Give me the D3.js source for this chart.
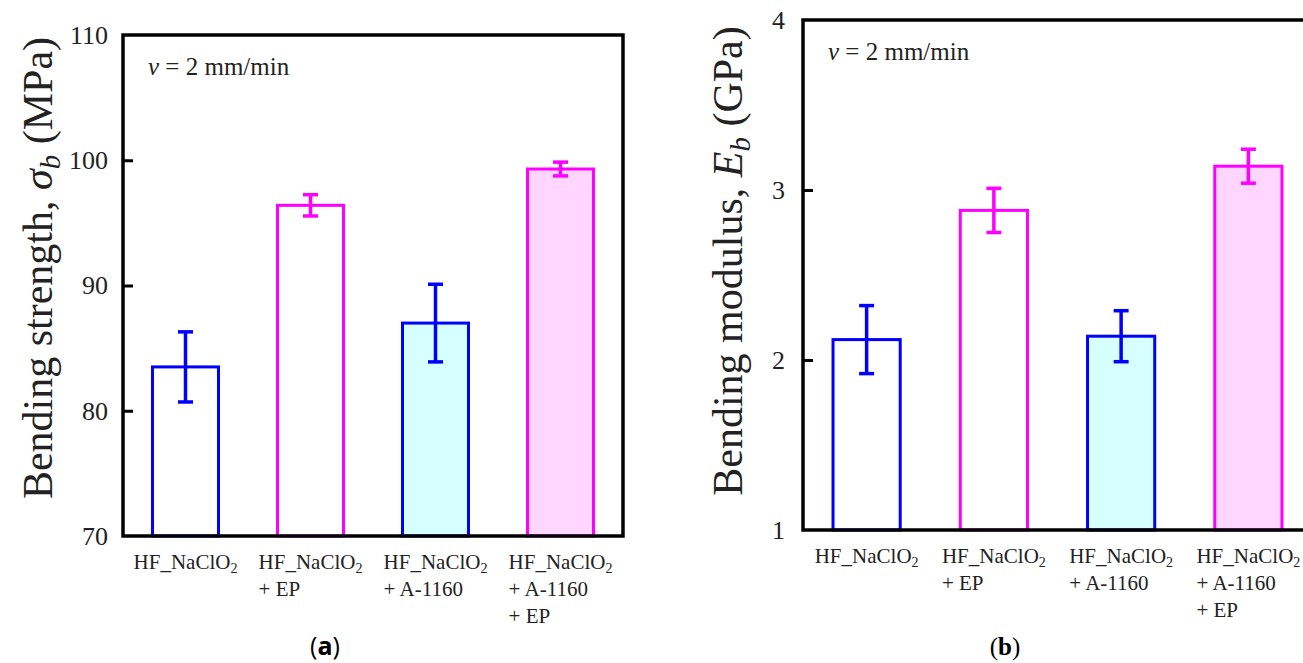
<!DOCTYPE html>
<html>
<head>
<meta charset="utf-8">
<script src="https://cdn.jsdelivr.net/npm/d3@7"></script>
<style>
  body { margin: 0; background: #fff; }
  text { font-family: "Liberation Serif", "Times New Roman", serif; fill: #222; }
</style>
</head>
<body>
<script>
// categories (each entry = lines of the x label; "NaClO2" gets a subscript 2)
const categories = [
    ["HF_NaClO2"],
    ["HF_NaClO2", "+ EP"],
    ["HF_NaClO2", "+ A-1160"],
    ["HF_NaClO2", "+ A-1160", "+ EP"]
];
const strokeColors = ["#0000ff", "#ff00ff", "#0000ff", "#ff00ff"];
const fillColors = ["#ffffff", "#ffffff", "#d6ffff", "#ffd6ff"];

// (a) bending strength, MPa
const strength = [83.5, 96.4, 87.0, 99.3];
const strengthErr = [2.8, 0.85, 3.1, 0.55];
const strengthTicks = [70, 80, 90, 100, 110];

// (b) bending modulus, GPa
const modulus = [2.12, 2.88, 2.14, 3.14];
const modulusErr = [0.20, 0.13, 0.15, 0.10];
const modulusTicks = [1, 2, 3, 4];

const svg = d3.select("body")
    .append("svg")
    .attr("width", 1303)
    .attr("height", 663);

function drawPanel(p) {
    const g = svg.append("g");

    const x = d3.scaleBand()
        .domain(d3.range(categories.length))
        .range([p.left, p.right])
        .paddingInner(0.472)
        .paddingOuter(0.236);

    const y = d3.scaleLinear()
        .domain(d3.extent(p.ticks))
        .range([p.bottom, p.top]);

    // bars
    g.selectAll(".bar")
        .data(p.values)
        .enter()
        .append("rect")
        .attr("x", (d, i) => x(i))
        .attr("y", d => y(d))
        .attr("width", x.bandwidth())
        .attr("height", d => y.range()[0] - y(d))
        .attr("fill", (d, i) => fillColors[i])
        .attr("stroke", (d, i) => strokeColors[i])
        .attr("stroke-width", 3);

    // error bars
    const err = g.selectAll(".err")
        .data(p.values)
        .enter()
        .append("g")
        .attr("stroke", (d, i) => strokeColors[i])
        .attr("stroke-width", 3.5);
    err.append("line")
        .attr("x1", (d, i) => x(i) + x.bandwidth() / 2)
        .attr("x2", (d, i) => x(i) + x.bandwidth() / 2)
        .attr("y1", (d, i) => y(d - p.errors[i]))
        .attr("y2", (d, i) => y(d + p.errors[i]));
    [-1, 1].forEach(s => {
        err.append("line")
            .attr("x1", (d, i) => x(i) + x.bandwidth() / 2 - 7.5)
            .attr("x2", (d, i) => x(i) + x.bandwidth() / 2 + 7.5)
            .attr("y1", (d, i) => y(d + s * p.errors[i]))
            .attr("y2", (d, i) => y(d + s * p.errors[i]));
    });

    // left axis, ticks pointing inside
    const axis = g.append("g")
        .attr("transform", `translate(${p.left},0)`)
        .call(d3.axisLeft(y).tickValues(p.ticks).tickFormat(d3.format("d"))
            .tickSize(-10).tickPadding(p.tickPad));
    axis.select(".domain").remove();
    axis.selectAll(".tick line")
        .attr("stroke", "#000")
        .attr("stroke-width", 3)
        .attr("opacity", d => (d === y.domain()[0] || d === y.domain()[1]) ? 0 : 1);
    axis.selectAll(".tick text")
        .attr("font-size", 26)
        .attr("fill", "#222");

    // frame
    g.append("rect")
        .attr("x", p.left)
        .attr("y", p.top)
        .attr("width", p.right - p.left)
        .attr("height", p.bottom - p.top)
        .attr("fill", "none")
        .attr("stroke", "#000")
        .attr("stroke-width", 3.5);

    // x labels, left aligned block centred under each bar
    categories.forEach((lines, i) => {
        const lg = g.append("g");
        lines.forEach((l, j) => {
            const t = lg.append("text")
                .attr("y", j * 27)
                .attr("font-size", 21);
            if (l.endsWith("2")) {
                t.append("tspan").text(l.slice(0, -1));
                t.append("tspan").attr("font-size", 14).attr("dy", 4).text("2");
            } else {
                t.text(l);
            }
        });
        const w = lg.select("text").node().getBBox().width;
        lg.attr("transform", `translate(${x(i) + x.bandwidth() / 2 - w / 2},${p.bottom + 33})`);
    });

    // speed note
    const note = g.append("text")
        .attr("x", p.left + 25)
        .attr("y", p.top + 40)
        .attr("font-size", 25);
    note.append("tspan").attr("font-style", "italic").text("v");
    note.append("tspan").text(" = 2 mm/min");

    // y title
    const yt = g.append("text")
        .attr("transform", `translate(${p.titleX},${p.titleY}) rotate(-90)`)
        .attr("text-anchor", "middle")
        .attr("font-size", 42);
    yt.append("tspan").text(p.title[0]);
    yt.append("tspan").attr("font-style", "italic").text(p.title[1]);
    yt.append("tspan").attr("font-style", "italic").attr("font-size", 29).attr("dy", 8).text("b");
    yt.append("tspan").attr("dy", -8).text(p.title[2]);

    // panel caption
    const cap = svg.append("text")
        .attr("x", p.capX)
        .attr("y", 655)
        .attr("text-anchor", "middle")
        .attr("font-size", 25)
        .style("font-family", p.capFont)
        .style("fill", "#000");
    cap.append("tspan").text("(");
    cap.append("tspan").attr("font-weight", "bold").text(p.capLetter);
    cap.append("tspan").text(")");
}

drawPanel({
    left: 123, right: 623, top: 35, bottom: 536,
    values: strength, errors: strengthErr, ticks: strengthTicks,
    tickPad: 15, title: ["Bending strength, ", "σ", " (MPa)"],
    titleX: 52, titleY: 268,
    capX: 325, capLetter: "a", capFont: "Open Sans"
});

drawPanel({
    left: 803, right: 1312, top: 20, bottom: 530,
    values: modulus, errors: modulusErr, ticks: modulusTicks,
    tickPad: 18, title: ["Bending modulus, ", "E", " (GPa)"],
    titleX: 742, titleY: 261,
    capX: 1005, capLetter: "b", capFont: "Liberation Serif"
});
</script>
</body>
</html>
